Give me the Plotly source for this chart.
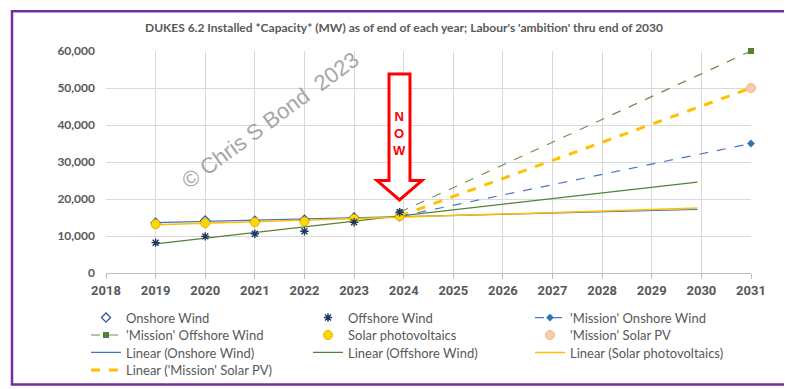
import numpy as np
import plotly.graph_objects as go

# ---- data ----
years = [2019, 2020, 2021, 2022, 2023, 2023.92]
onshore = [13600, 14200, 14100, 14400, 15000, 15300]
offshore = [8200, 9900, 10600, 11300, 13700, 16400]
solar = [13200, 13500, 13700, 13900, 14600, 15400]

mission_years = [2023.92, 2031]
mission_onshore = [15300, 35000]
mission_offshore = [16400, 60000]
mission_solar = [15400, 50000]

forecast_forward = 6
x_ticks = list(range(2018, 2032))
title_text = "DUKES 6.2 Installed *Capacity* (MW) as of end of each year; Labour's 'ambition' thru end of 2030"

# ---- layout geometry (pixels) ----
W, H = 792, 389
ML, MR, MT, MB = 98, 49, 43, 117
PW, PH = W - ML - MR, H - MT - MB


def px(xp):
    return (xp - ML) / PW


def py(yp):
    return (H - MB - yp) / PH


def trend(xs, ys, fwd):
    k, b = np.polyfit(xs, ys, 1)
    xx = np.array([xs[0], xs[-1] + fwd])
    return xx, k * xx + b


GRAY = "#595959"
fig = go.Figure()

# trendlines
tx, ty = trend(years, onshore, forecast_forward)
fig.add_trace(go.Scatter(x=tx, y=ty, mode="lines", name="Linear (Onshore Wind)",
                         line=dict(color="#4472c4", width=1.2), legend="legend3", legendrank=1))
tx, ty = trend(years, offshore, forecast_forward)
fig.add_trace(go.Scatter(x=tx, y=ty, mode="lines", name="Linear (Offshore Wind)",
                         line=dict(color="#548235", width=1.2), legend="legend3", legendrank=2))
tx, ty = trend(years, solar, forecast_forward)
fig.add_trace(go.Scatter(x=tx, y=ty, mode="lines", name="Linear (Solar photovoltaics)",
                         line=dict(color="#ffc000", width=1.5), legend="legend3", legendrank=3))
tx, ty = trend(mission_years, mission_solar, 0)
fig.add_trace(go.Scatter(x=tx, y=ty, mode="lines", name="Linear ('Mission' Solar PV)",
                         line=dict(color="#ffc000", width=3, dash="dash"), legend="legend4", legendrank=1))

# mission series
fig.add_trace(go.Scatter(x=mission_years, y=mission_solar, mode="markers", name="'Mission' Solar PV",
                         marker=dict(symbol="circle", size=9, color="#f8cbad",
                                     line=dict(width=1, color="#f4b183")),
                         cliponaxis=False, legend="legend2", legendrank=3))
fig.add_trace(go.Scatter(x=mission_years, y=mission_onshore, mode="lines+markers",
                         name="'Mission' Onshore Wind",
                         line=dict(color="#4a78c0", width=1.2, dash="dash"),
                         marker=dict(symbol="diamond", size=6, color="#2e75b6"),
                         cliponaxis=False, legend="legend", legendrank=3))
fig.add_trace(go.Scatter(x=mission_years, y=mission_offshore, mode="lines+markers",
                         name="'Mission' Offshore Wind",
                         line=dict(color="#6f8f50", width=1.2, dash="dash"),
                         marker=dict(symbol="square", size=6, color="#548235"),
                         cliponaxis=False, legend="legend2", legendrank=1))

# data points
fig.add_trace(go.Scatter(x=years, y=onshore, mode="markers", name="Onshore Wind",
                         marker=dict(symbol="diamond-open", size=7, color="#2f5597",
                                     line=dict(width=1.3)),
                         legend="legend", legendrank=1))
fig.add_trace(go.Scatter(x=years, y=solar, mode="markers", name="Solar photovoltaics",
                         marker=dict(symbol="circle", size=9, color="#ffd800",
                                     line=dict(width=1, color="#e0b400")),
                         legend="legend2", legendrank=2))
fig.add_trace(go.Scatter(x=years, y=offshore, mode="markers", name="Offshore Wind",
                         marker=dict(symbol="asterisk-open", size=7, color="#1f3864",
                                     line=dict(width=1.4, color="#1f3864")),
                         legend="legend", legendrank=2))

legend_font = dict(family="Lato, Calibri, sans-serif", size=13, color=GRAY)
leg_common = dict(orientation="h", xanchor="left", yanchor="middle", x=px(78),
                  entrywidth=177, entrywidthmode="pixels", font=legend_font,
                  bgcolor="rgba(0,0,0,0)", itemwidth=30, tracegroupgap=0)
row_y = [318, 336, 354, 372]

# NOW arrow (outline, white fill)
arrow_pts = [(381, 66.7), (402, 66.7), (402, 176.7), (414, 176.7), (391.5, 196.7),
             (369, 176.7), (381, 176.7)]
path = "M " + " L ".join(f"{px(a):.4f},{py(b):.4f}" for a, b in arrow_pts) + " Z"

fig.update_layout(
    width=W, height=H,
    margin=dict(l=ML, r=MR, t=MT, b=MB),
    paper_bgcolor="white", plot_bgcolor="white",
    title=dict(text=title_text, x=0.5, xref="container", xanchor="center",
               y=1 - 20 / H, yref="container", yanchor="middle",
               font=dict(family="Lato, Calibri, sans-serif", size=12, color=GRAY, weight="bold")),
    xaxis=dict(range=[2018, 2031], tickmode="array", tickvals=x_ticks,
               ticktext=[str(t) for t in x_ticks],
               showgrid=True, gridcolor="#d9d9d9", gridwidth=1,
               showline=True, linecolor="#bfbfbf", linewidth=1,
               ticks="outside", ticklen=5, tickcolor="#bfbfbf",
               tickfont=dict(family="Liberation Sans Narrow, Arial Narrow, Roboto, sans-serif", size=13,
                             color=GRAY, weight="bold"),
               zeroline=False),
    yaxis=dict(range=[0, 60000], dtick=10000, tickformat=",",
               showgrid=True, gridcolor="#d9d9d9", gridwidth=1,
               showline=False, zeroline=False, ticks="", ticklabelstandoff=10,
               tickfont=dict(family="Lato, Calibri, sans-serif", size=12, color=GRAY, weight="bold")),
    legend=dict(y=py(row_y[0]), **leg_common),
    legend2=dict(y=py(row_y[1]), **leg_common),
    legend3=dict(y=py(row_y[2]), **leg_common),
    legend4=dict(y=py(row_y[3]), **leg_common),
    shapes=[
        dict(type="path", xref="paper", yref="paper", path=path,
             line=dict(color="#ff0000", width=3), fillcolor="white", layer="above"),
        dict(type="rect", xref="paper", yref="paper",
             x0=px(4), x1=px(789), y0=py(387), y1=py(2),
             line=dict(color="#7030a0", width=2.5), fillcolor="rgba(0,0,0,0)", layer="above"),
    ],
    annotations=[
        dict(text="N<br>O<br>W", xref="paper", yref="paper", x=px(391), y=py(127.7),
             xanchor="center", yanchor="middle", showarrow=False,
             font=dict(family="Liberation Sans, Arial, sans-serif", size=13, color="#ff0000",
                       weight="bold")),
        dict(text="\u00a9 Chris S Bond\u00a0 2023", xref="paper", yref="paper",
             x=px(262), y=py(115), xanchor="center", yanchor="middle", showarrow=False,
             textangle=-36.4,
             font=dict(family="Liberation Sans, Arial, sans-serif", size=22, color="#a6a6a6")),
    ],
)

fig.write_html("out.html")
